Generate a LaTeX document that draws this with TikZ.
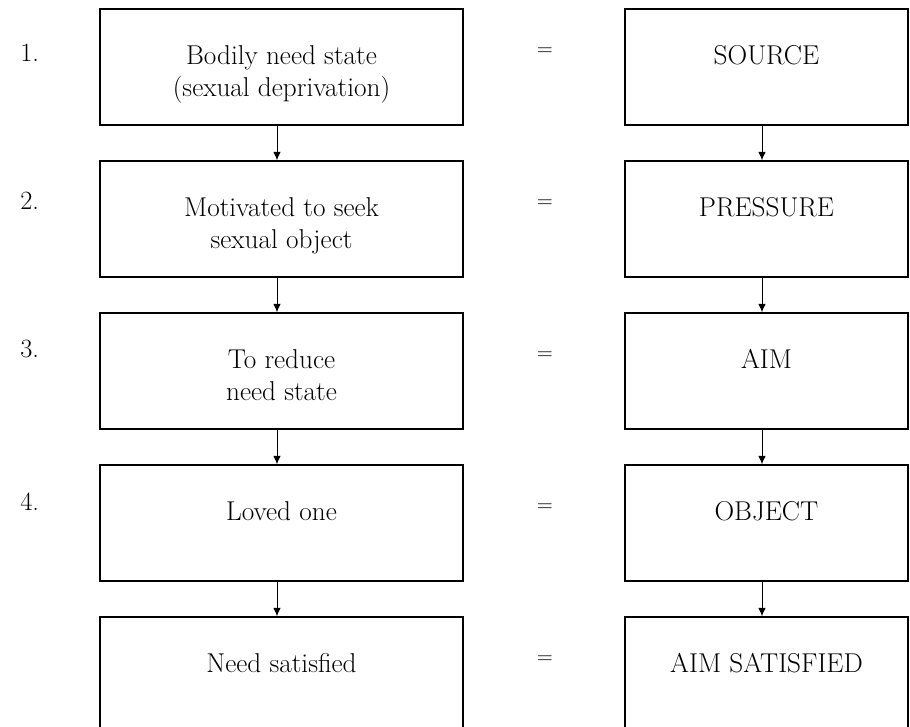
\documentclass[tikz,border=0pt]{standalone}
\usetikzlibrary{arrows.meta}

\begin{document}
\begin{tikzpicture}
    \useasboundingbox (0,0) rectangle (18.2,-14.54);
    \tikzset{BoxStyle/.style = {%
        shape= rectangle,
        draw,
        line width= 0.8pt,
        minimum height= 2.32cm},
      LeftBox/.style = {BoxStyle, minimum width= 7.26cm},
      RightBox/.style = {BoxStyle, minimum width= 5.66cm},
      BoxText/.style = {%
        anchor= north,
        inner sep= 0pt,
        yshift= -0.73cm,
        align= center,
        font= \fontsize{15.5}{18.7}\selectfont},
      NumStyle/.style = {anchor= base west, inner sep= 0pt,
        font= \fontsize{15}{18.7}\selectfont},
      EqStyle/.style = {inner sep= 0pt, font= \fontsize{12}{14}\selectfont},
      FlowArrow/.style = {-{Latex[length=1.7mm,width=1.5mm]}, line width= 0.5pt}}
    % left column
    \node[LeftBox,label={[BoxText]north:Bodily need state\\(sexual deprivation)}] (need) at (5.63,-1.34) {};
    \node[LeftBox,label={[BoxText]north:Motivated to seek\\sexual object}] (seek) at (5.63,-4.38) {};
    \node[LeftBox,label={[BoxText]north:To reduce\\need state}] (reduce) at (5.63,-7.42) {};
    \node[LeftBox,label={[BoxText]north:Loved one}] (loved) at (5.63,-10.46) {};
    \node[LeftBox,label={[BoxText]north:Need satisfied}] (satisfied) at (5.63,-13.50) {};
    % right column
    \node[RightBox,label={[BoxText]north:SOURCE}] (source) at (15.33,-1.34) {};
    \node[RightBox,label={[BoxText]north:PRESSURE}] (pressure) at (15.33,-4.38) {};
    \node[RightBox,label={[BoxText]north:AIM}] (aim) at (15.33,-7.42) {};
    \node[RightBox,label={[BoxText]north:OBJECT}] (object) at (15.33,-10.46) {};
    \node[RightBox,label={[BoxText]north:AIM SATISFIED}] (aimsat) at (15.33,-13.50) {};
    % step numbers
    \node[NumStyle] (n1) at (0.4,-1.22) {1.};
    \node[NumStyle] (n2) at (0.4,-4.18) {2.};
    \node[NumStyle] (n3) at (0.4,-7.14) {3.};
    \node[NumStyle] (n4) at (0.4,-10.20) {4.};
    % equal signs
    \node[EqStyle] (eq1) at (10.9,-1.03) {$=$};
    \node[EqStyle] (eq2) at (10.9,-4.07) {$=$};
    \node[EqStyle] (eq3) at (10.9,-7.11) {$=$};
    \node[EqStyle] (eq4) at (10.9,-10.15) {$=$};
    \node[EqStyle] (eq5) at (10.9,-13.19) {$=$};
    % arrows
    \draw[FlowArrow] ([xshift=-0.09cm]need.south) -- ([xshift=-0.09cm]seek.north);
    \draw[FlowArrow] ([xshift=-0.09cm]seek.south) -- ([xshift=-0.09cm]reduce.north);
    \draw[FlowArrow] ([xshift=-0.09cm]reduce.south) -- ([xshift=-0.09cm]loved.north);
    \draw[FlowArrow] ([xshift=-0.09cm]loved.south) -- ([xshift=-0.09cm]satisfied.north);
    \draw[FlowArrow] ([xshift=-0.09cm]source.south) -- ([xshift=-0.09cm]pressure.north);
    \draw[FlowArrow] ([xshift=-0.09cm]pressure.south) -- ([xshift=-0.09cm]aim.north);
    \draw[FlowArrow] ([xshift=-0.09cm]aim.south) -- ([xshift=-0.09cm]object.north);
    \draw[FlowArrow] ([xshift=-0.09cm]object.south) -- ([xshift=-0.09cm]aimsat.north);
\end{tikzpicture}
\end{document}
